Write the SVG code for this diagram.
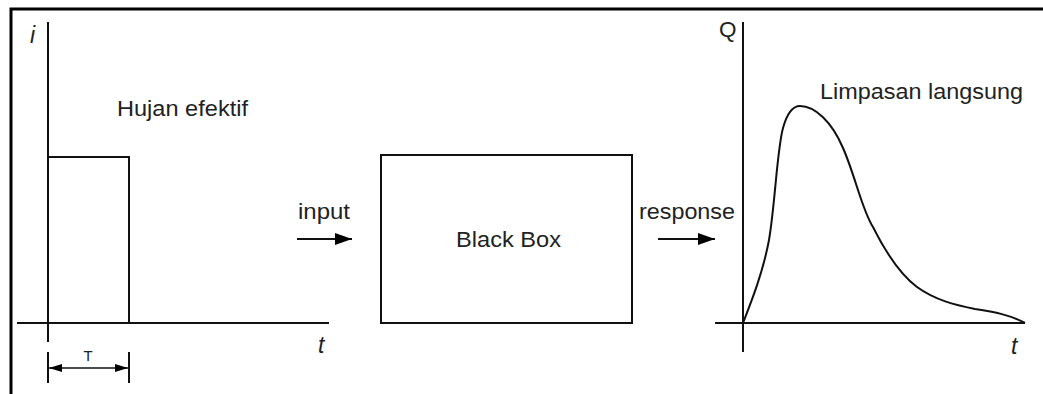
<svg xmlns="http://www.w3.org/2000/svg" width="1043" height="394" viewBox="0 0 1043 394">
<style>
.ln{stroke:#111;stroke-width:2;fill:none}
.fr{stroke:#000;stroke-width:3;fill:none}
.tx{font-family:"Liberation Sans",Arial,sans-serif;font-size:22.5px;fill:#222}
.it{font-family:"Liberation Sans",Arial,sans-serif;font-size:23px;font-style:italic;fill:#222}
.sm{font-family:"Liberation Sans",Arial,sans-serif;font-size:15px;fill:#222}
</style>
<defs>
<marker id="ah" viewBox="0 0 17 12" refX="17" refY="6" markerWidth="17" markerHeight="12" markerUnits="userSpaceOnUse" orient="auto">
<path d="M0,0 L17,6 L0,12 Z" fill="#000"/>
</marker>
<marker id="dh" viewBox="0 0 13 8" refX="13" refY="4" markerWidth="13" markerHeight="8" markerUnits="userSpaceOnUse" orient="auto-start-reverse">
<path d="M0,0 L13,4 L0,8 Z" fill="#000"/>
</marker>
</defs>
<rect width="1043" height="394" fill="#fff"/>
<path class="fr" d="M11,394 L11,9 L1043,9"/>
<g id="input-graph">
<line class="ln" x1="48" y1="22" x2="48" y2="342"/>
<line class="ln" x1="17" y1="323" x2="329" y2="323"/>
<path class="ln" d="M48,157 L129,157 L129,323"/>
<text class="it" x="30" y="43">i</text>
<text class="it" x="318" y="353">t</text>
<text class="tx" x="117" y="116" textLength="131" lengthAdjust="spacingAndGlyphs">Hujan efektif</text>
<line class="ln" x1="48" y1="352" x2="48" y2="383"/>
<line class="ln" x1="129" y1="352" x2="129" y2="383"/>
<line stroke="#111" stroke-width="1.5" x1="49" y1="368" x2="128" y2="368" marker-start="url(#dh)" marker-end="url(#dh)"/>
<text class="sm" x="88" y="361" text-anchor="middle">T</text>
</g>
<g id="black-box">
<rect class="ln" x="381" y="155" width="251" height="168"/>
<text class="tx" x="456" y="247" textLength="105" lengthAdjust="spacingAndGlyphs">Black Box</text>
</g>
<g id="response-graph">
<line class="ln" x1="743" y1="22" x2="743" y2="352"/>
<line class="ln" x1="715" y1="323" x2="1025" y2="323"/>
<text class="tx" x="719" y="37">Q</text>
<text class="it" x="1011" y="354">t</text>
<text class="tx" x="820" y="99" textLength="203" lengthAdjust="spacingAndGlyphs">Limpasan langsung</text>
<path class="ln" d="M743,323 C752,300 763,272 769,240 C775,205 777,150 783,128 C788,110 794,106 800,106 C815,106 832,122 843,148 C855,175 862,210 873,227 C883,247 897,272 917,287 C935,300 955,305 975,309 C995,312 1010,315 1025,323"/>
</g>
<g id="connectors">
<line class="ln" x1="297" y1="239" x2="352" y2="239" marker-end="url(#ah)"/>
<text class="tx" x="298" y="219" textLength="52" lengthAdjust="spacingAndGlyphs">input</text>
<line class="ln" x1="658" y1="239" x2="715" y2="239" marker-end="url(#ah)"/>
<text class="tx" x="639" y="219" textLength="96" lengthAdjust="spacingAndGlyphs">response</text>
</g>
</svg>
